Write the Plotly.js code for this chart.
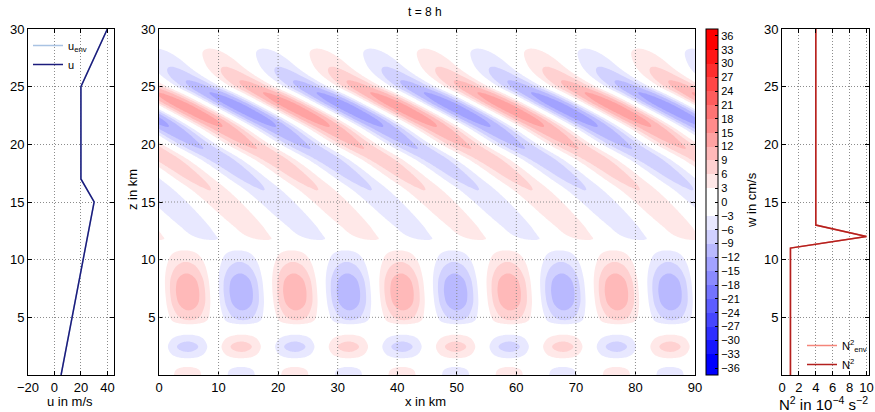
<!DOCTYPE html>
<html><head><meta charset="utf-8">
<script src="https://cdn.plot.ly/plotly-3.0.1.min.js"></script>
<style>html,body{margin:0;padding:0;background:#fff;}#chart{width:875px;height:412px;}</style>
</head><body><div id="chart"></div>
<script>
// ---------- data ----------
// left panel: wind profile
const zWind = [0, 15, 17, 25, 30];
const uEnv = [5, 30, 20, 20, 40];
const uWind = [5, 30, 20, 20, 40];
// right panel: stability profile
const zStab = [0, 11, 12, 13, 30];
const n2Env = [1, 1, 10, 4, 4];
const n2 = [1, 1, 10, 4, 4];
// main panel: vertical velocity field w (cm/s), described by a horizontal wavelength
// and, per height, the signed amplitude and the x-position of the positive crest
const waveLengthKm = 18;
const waveZ     = [0, 0.3, 0.7, 1.05, 1.45, 2.0, 2.45, 2.9, 3.5, 4.0, 4.4, 4.75, 5.6, 6.5, 7.2, 8.0, 8.8, 9.8, 10.8, 11.3, 11.7, 12, 13, 14, 15, 16, 17, 18.6, 20, 21.5, 22.3, 23.3, 24.3, 25.2, 26.5, 27.5, 28.3, 29, 30];
const waveAmp   = [4.3, 4.1, 3.0, 0, -3, -6, -7.4, -6, -3, 0, 3, 6, 9, 11.2, 11.6, 11, 9, 6, 3, 0, 3, 3.8, 4.6, 5.2, 5.6, 6.0, 6.8, 8, 9.5, 12, 13.5, 14, 12.5, 10, 6.5, 4.5, 3, 1.5, 0];
const wavePhase = [4.8, 4.8, 4.8, 4.8, 4.8, 4.8, 4.8, 4.8, 4.9, 5.0, 5.1, 5.1, 5.0, 4.9, 4.8, 4.7, 4.6, 4.5, 4.3, 18.5, 17.9, 16.8, 14.8, 12.8, 10.8, 8.6, 6.0, 1.7, -3.0, -7.5, -10.2, -13.8, -17.5, -21, -24.5, -26.2, -27.5, -28.5, -30];
// tick labels
const uTicks = [-20, 0, 20, 40];
const xTicks = [0, 10, 20, 30, 40, 50, 60, 70, 80, 90];
const zTicks = [5, 10, 15, 20, 25, 30];
const n2Ticks = [0, 2, 4, 6, 8, 10];
const wTicks = [];
for (let v = -36; v <= 36; v += 3) wTicks.push(v);
const xGridLines = [10, 20, 30, 40, 50, 60, 70, 80];
const zGridLines = [5, 10, 15, 20, 25];

// ---------- helpers ----------
function makePchip(xs, ys) {
  const n = xs.length, h = [], d = [], m = new Array(n);
  for (let i = 0; i < n - 1; i++) { h[i] = xs[i+1] - xs[i]; d[i] = (ys[i+1] - ys[i]) / h[i]; }
  m[0] = d[0]; m[n-1] = d[n-2];
  for (let i = 1; i < n - 1; i++) {
    if (d[i-1] * d[i] <= 0) m[i] = 0;
    else { const w1 = 2*h[i] + h[i-1], w2 = h[i] + 2*h[i-1]; m[i] = (w1 + w2) / (w1/d[i-1] + w2/d[i]); }
  }
  return function (x) {
    let i = 0;
    while (i < n - 2 && x > xs[i+1]) i++;
    const t = (x - xs[i]) / h[i], t2 = t*t, t3 = t2*t;
    return (2*t3 - 3*t2 + 1)*ys[i] + (t3 - 2*t2 + t)*h[i]*m[i] + (-2*t3 + 3*t2)*ys[i+1] + (t3 - t2)*h[i]*m[i+1];
  };
}
const ampF = makePchip(waveZ, waveAmp);
const phaseF = makePchip(waveZ, wavePhase);
const xGrid = [], zGrid = [];
for (let i = 0; i <= 360; i++) xGrid.push(i * 0.25);
for (let j = 0; j <= 300; j++) zGrid.push(j * 0.1);
const wField = zGrid.map(z => {
  const a = ampF(z), p = phaseF(z);
  return xGrid.map(x => a * Math.cos(2 * Math.PI * (x - p) / waveLengthKm));
});

// stepped blue-white-red colour scale (one colour per 3 cm/s band)
function blue(i) { const g = Math.round(255 * (1 - i / 11)); return `rgb(${g},${g},255)`; }
function red(i) { const g = Math.round(255 * (1 - i / 11)); return `rgb(255,${g},${g})`; }
const colorscale = [];
for (let j = 0; j <= 25; j++) {
  let c;
  if (j <= 11) c = blue(Math.min(11, 12 - j));
  else if (j <= 13) c = 'rgb(255,255,255)';
  else c = red(Math.min(11, j - 13));
  colorscale.push([j / 25, c]);
}

// ---------- figure ----------
const W = 875, H = 412, MT = 29, MB = 37, PH = H - MT - MB;
const fx = p => p / W;
const fy = p => (H - MB - p) / PH;
const FONT = 'Liberation Sans, Arial, Helvetica, sans-serif';
const DOT = '1px,2px';

const traces = [
  {type: 'contour', x: xGrid, y: zGrid, z: wField, xaxis: 'x2', yaxis: 'y2',
   autocontour: false, contours: {start: -36, end: 36, size: 3, coloring: 'fill', showlines: false},
   line: {width: 0, smoothing: 1}, colorscale: colorscale, hoverinfo: 'skip', showlegend: false,
   colorbar: {x: fx(706), xanchor: 'left', xpad: 0, y: 0.5, yanchor: 'middle', ypad: 0, len: 1, lenmode: 'fraction',
     thickness: 12, thicknessmode: 'pixels', outlinecolor: '#000', outlinewidth: 1,
     tickvals: wTicks, ticks: 'inside', ticklen: 3, tickcolor: '#000',
     tickfont: {family: FONT, size: 11, color: '#000'}, title: {text: ''}}},
  {type: 'scatter', mode: 'lines', x: uEnv, y: zWind, xaxis: 'x', yaxis: 'y', name: 'u<sub>env</sub>',
   line: {color: '#a9c3e3', width: 1.5}, legend: 'legend', hoverinfo: 'skip'},
  {type: 'scatter', mode: 'lines', x: uWind, y: zWind, xaxis: 'x', yaxis: 'y', name: 'u',
   line: {color: '#1c1c7c', width: 1.5}, legend: 'legend', hoverinfo: 'skip'},
  {type: 'scatter', mode: 'lines', x: n2Env, y: zStab, xaxis: 'x3', yaxis: 'y3', name: 'N<sup>2</sup><sub>env</sub>',
   line: {color: '#f4857a', width: 1.5}, legend: 'legend2', hoverinfo: 'skip'},
  {type: 'scatter', mode: 'lines', x: n2, y: zStab, xaxis: 'x3', yaxis: 'y3', name: 'N<sup>2</sup>',
   line: {color: '#b3201e', width: 1.5}, legend: 'legend2', hoverinfo: 'skip'}
];

const axBase = {showline: true, linecolor: '#000', linewidth: 1, mirror: 'ticks', ticks: 'inside', ticklen: 4,
  tickcolor: '#000', zeroline: false, showgrid: true, gridcolor: '#8c8c8c', griddash: DOT, gridwidth: 1,
  tickfont: {family: FONT, size: 13, color: '#000'}, fixedrange: true};

const gridLine = {color: '#8c8c8c', width: 1, dash: DOT};
const shapes = [];
xGridLines.forEach(v => shapes.push({type: 'line', xref: 'x2', yref: 'y2 domain', x0: v, x1: v, y0: 0, y1: 1,
  layer: 'above', line: gridLine}));
zGridLines.forEach(v => shapes.push({type: 'line', xref: 'x2 domain', yref: 'y2', x0: 0, x1: 1, y0: v, y1: v,
  layer: 'above', line: gridLine}));

const ann = (text, x, y, size, angle) => ({text, x, y, xref: 'paper', yref: 'paper', showarrow: false,
  xanchor: 'center', yanchor: 'middle', textangle: angle || 0, font: {family: FONT, size, color: '#000'}});

const layout = {
  width: W, height: H, paper_bgcolor: '#fff', plot_bgcolor: '#fff',
  margin: {l: 0, r: 0, t: MT, b: MB, autoexpand: false},
  font: {family: FONT, color: '#000'},
  xaxis: Object.assign({}, axBase, {domain: [fx(28), fx(114)], range: [-20, 45], tickvals: uTicks, anchor: 'y'}),
  yaxis: Object.assign({}, axBase, {domain: [0, 1], range: [0, 30], tickvals: zTicks, anchor: 'x'}),
  xaxis2: Object.assign({}, axBase, {domain: [fx(159), fx(695)], range: [0, 90], tickvals: xTicks, anchor: 'y2', showgrid: false}),
  yaxis2: Object.assign({}, axBase, {domain: [0, 1], range: [0, 30], tickvals: zTicks, anchor: 'x2', showgrid: false}),
  xaxis3: Object.assign({}, axBase, {domain: [fx(782), fx(869)], range: [0, 10.3], tickvals: n2Ticks, anchor: 'y3'}),
  yaxis3: Object.assign({}, axBase, {domain: [0, 1], range: [0, 30], tickvals: zTicks, anchor: 'x3'}),
  legend: {x: fx(28), y: fy(31), xanchor: 'left', yanchor: 'top', bgcolor: 'rgba(0,0,0,0)', borderwidth: 0,
    font: {family: FONT, size: 11, color: '#000'}, itemwidth: 30, tracegroupgap: 0},
  legend2: {x: fx(802), y: fy(331), xanchor: 'left', yanchor: 'top', bgcolor: 'rgba(0,0,0,0)', borderwidth: 0,
    font: {family: FONT, size: 11, color: '#000'}, itemwidth: 30, tracegroupgap: 0},
  shapes: shapes,
  annotations: [
    ann('t = 8 h', fx(425), fy(12), 12),
    ann('x in km', fx(425), fy(401), 13),
    ann('z in km', fx(132), fy(190), 13, -90),
    ann('u in m/s', fx(70), fy(401), 13),
    ann('w in cm/s', fx(752), fy(200), 13, -90),
    ann('N<sup>2</sup> in 10<sup>\u22124</sup> s<sup>\u22122</sup>', fx(823), fy(403), 15)
  ]
};

Plotly.newPlot('chart', traces, layout, {staticPlot: true, displayModeBar: false});
</script></body></html>
